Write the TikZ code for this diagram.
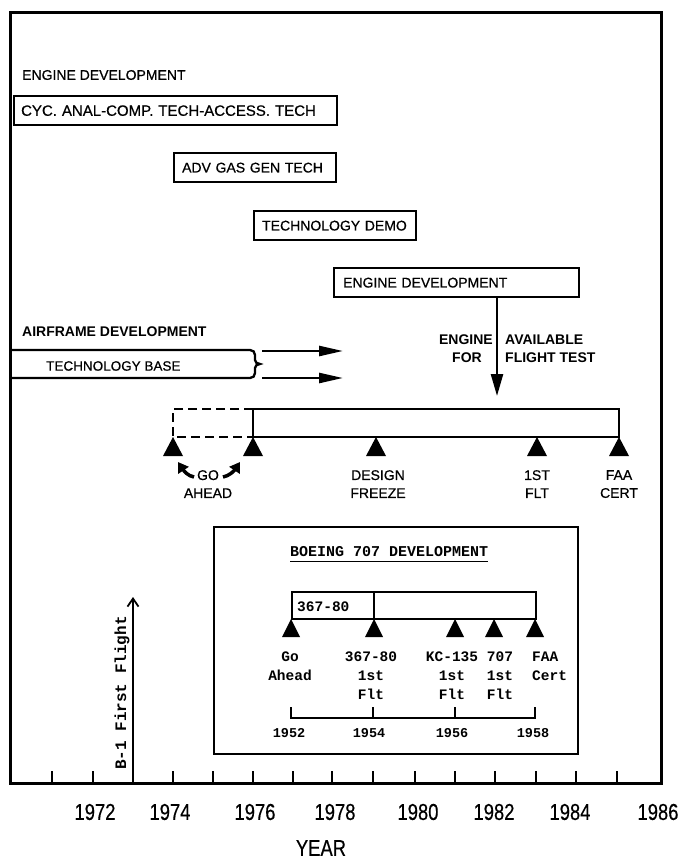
\documentclass[tikz,border=0pt]{standalone}
\usepackage{fontspec}
\setmainfont{Liberation Sans}
\newfontfamily\letterfont[FakeBold=0.6]{Liberation Sans}
\newfontfamily\typefont{Liberation Mono}
\newfontfamily\condfont[FakeStretch=0.8,FakeBold=0.4]{Liberation Sans}
\usetikzlibrary{arrows.meta}
\newcommand{\milestone}[1]{\fill (#1) ++(-10,19) -- (#1) -- ++(10,19) -- cycle;}
\newcommand{\smallmilestone}[1]{\fill (#1) ++(-9,18) -- (#1) -- ++(9,18) -- cycle;}
\tikzset{
  outframe/.style={line width=3pt},
  tbox/.style={draw, line width=2.3pt, minimum height=29pt, inner ysep=0pt, align=left,
    font=\letterfont\fontsize{14}{16}\selectfont},
  lbl/.style={font=\letterfont\fontsize{14}{18}\selectfont, align=center, inner sep=0pt},
  blbl/.style={font=\bfseries\fontsize{14}{18}\selectfont, inner sep=0pt},
  bigarrow/.style={line width=2.5pt, -{Triangle[length=24pt,width=10pt]}},
  downarrow/.style={line width=2.5pt, -{Triangle[length=22pt,width=12pt]}},
  goarrow/.style={line width=3.5pt, -{Triangle[length=10pt,width=12pt]}},
  tline/.style={line width=2.3pt},
  insetline/.style={line width=2pt},
  mono/.style={font=\typefont\bfseries\fontsize{14.5}{19}\selectfont, align=center, inner sep=0pt},
  yr/.style={font=\condfont\fontsize{23}{23}\selectfont, inner sep=0pt},
  tickline/.style={line width=2pt},
}
\begin{document}
\begin{tikzpicture}[x=1pt,y=-1pt]
\fill[white] (0,0) rectangle (680,861);
\useasboundingbox (0,0) rectangle (680,861);

% outer frame and axis
\draw[outframe] (10,13) rectangle (661,783);
\foreach \tx in {52,93,173,213,253,293,332,373,415,455,495,536,576,617}
  \draw[tickline] (\tx,771) -- (\tx,783);

% engine development
\node[lbl, anchor=west] (engtitle) at (22,75) {ENGINE DEVELOPMENT};
\node[tbox, anchor=north west, inner xsep=7pt, text width=309pt, font=\letterfont\fontsize{15}{16}\selectfont] (cyc) at (13,95) {CYC. ANAL-COMP. TECH-ACCESS. TECH};
\node[tbox, anchor=north west, inner xsep=8pt, text width=146pt] (adv) at (173,152) {ADV GAS GEN TECH};
\node[tbox, anchor=north west, inner xsep=8pt, text width=146pt] (demo) at (253,210) {TECHNOLOGY DEMO};
\node[tbox, anchor=north west, inner xsep=9pt, text width=227pt] (engdev) at (333,267) {ENGINE DEVELOPMENT};

\coordinate (engtip) at (497,396);
\draw[downarrow] (engdev.south -| engtip) -- (engtip);
\node[blbl, anchor=east] (engl1) at (493,340) {ENGINE};
\node[blbl] (engl2) at (467,358) {FOR};
\node[blbl, anchor=west] (avl1) at (505,340) {AVAILABLE};
\node[blbl, anchor=west] (avl2) at (505,358) {FLIGHT TEST};

% airframe development
\node[blbl, anchor=west] (airtitle) at (22,332) {AIRFRAME DEVELOPMENT};
\draw[tline] (12,350) -- (250,350) .. controls (253,350) and (255,352) .. (255,355) -- (255,360)
  .. controls (255,362) and (257,364) .. (260,364) .. controls (257,364) and (255,366) .. (255,368)
  -- (255,373) .. controls (255,376) and (253,378) .. (250,378) -- (12,378);
\node[lbl, anchor=west, font=\letterfont\fontsize{13.5}{16}\selectfont] (techbase) at (46,366) {TECHNOLOGY BASE};
\coordinate (ta1) at (262,351); \coordinate (ta1e) at (343,351);
\coordinate (ta2) at (262,378); \coordinate (ta2e) at (343,378);
\draw[bigarrow] (ta1) -- (ta1e);
\draw[bigarrow] (ta2) -- (ta2e);

% main timeline
\draw[tline] (253,409) rectangle (619,437);
\draw[line width=2pt, dash pattern=on 9pt off 5pt] (253,409) -- (173,409) -- (173,437) -- (253,437);
\coordinate (m1) at (173,437);
\coordinate (m2) at (253,437);
\coordinate (m3) at (376,437);
\coordinate (m4) at (537,437);
\coordinate (m5) at (619,437);
\milestone{m1} \milestone{m2} \milestone{m3} \milestone{m4} \milestone{m5}
\node[lbl, anchor=north] (golbl) at (208,470) {GO\\AHEAD};
\node[lbl, anchor=north] (dflbl) at (378,470) {DESIGN\\FREEZE};
\node[lbl, anchor=north] (fflbl) at (537,470) {1ST\\FLT};
\node[lbl, anchor=north] (falbl) at (619,470) {FAA\\CERT};
\coordinate (goLt) at (194,477); \coordinate (goL) at (178,462);
\coordinate (goRt) at (223,477); \coordinate (goR) at (240,462);
\draw[goarrow] (goLt) .. controls (188,476) and (184,471) .. (goL);
\draw[goarrow] (goRt) .. controls (229,476) and (234,471) .. (goR);

% Boeing 707 inset
\node[draw, insetline, minimum width=364pt, minimum height=227pt, anchor=north west, inner sep=0pt] (inset) at (213,526) {};
\node[mono, anchor=west, font=\typefont\bfseries\fontsize{15}{19}\selectfont] (boeing) at (290,552) {BOEING 707 DEVELOPMENT};
\draw[line width=1.5pt] ([yshift=-4pt]boeing.south west) -- ([yshift=-4pt]boeing.south east);
\draw[insetline] (292,592) rectangle (536,619);
\draw[insetline] (374,592) -- (374,619);
\node[mono, anchor=west] (proto) at (297,607) {367-80};
\coordinate (b1) at (291,619);
\coordinate (b2) at (374,619);
\coordinate (b3) at (455,619);
\coordinate (b4) at (494,619);
\coordinate (b5) at (535,619);
\smallmilestone{b1} \smallmilestone{b2} \smallmilestone{b3} \smallmilestone{b4} \smallmilestone{b5}
\node[mono, anchor=north] (bl1) at (290,652) {Go\\Ahead};
\node[mono, anchor=north] (bl2) at (371,652) {367-80\\1st\\Flt};
\node[mono, anchor=north] (bl3) at (452,652) {KC-135\\1st\\Flt};
\node[mono, anchor=north] (bl4) at (500,652) {707\\1st\\Flt};
\node[mono, anchor=north west, align=left] (bl5) at (532,652) {FAA\\Cert};
\draw[insetline] (291,707) -- (291,718) -- (535,718) -- (535,707);
\draw[insetline] (373,707) -- (373,718);
\draw[insetline] (455,707) -- (455,718);
\node[mono, font=\typefont\bfseries\fontsize{13.5}{16}\selectfont] (y52) at (289,733) {1952};
\node[mono, font=\typefont\bfseries\fontsize{13.5}{16}\selectfont] (y54) at (369,733) {1954};
\node[mono, font=\typefont\bfseries\fontsize{13.5}{16}\selectfont] (y56) at (452,733) {1956};
\node[mono, font=\typefont\bfseries\fontsize{13.5}{16}\selectfont] (y58) at (533,733) {1958};

% B-1 first flight
\coordinate (b1base) at (133,783);
\coordinate (b1tip) at (133,597);
\draw[line width=1.8pt, -{Straight Barb[length=8pt,width=11pt]}] (b1base) -- (b1tip);
\node[mono, rotate=90, font=\typefont\bfseries\fontsize{16}{19}\selectfont] (b1lbl) at (122,693) {B-1 First Flight};

% year axis labels
\node[yr] (l72) at (95,812) {1972};
\node[yr] (l74) at (170,812) {1974};
\node[yr] (l76) at (255,812) {1976};
\node[yr] (l78) at (335,812) {1978};
\node[yr] (l80) at (418,812) {1980};
\node[yr] (l82) at (494,812) {1982};
\node[yr] (l84) at (570,812) {1984};
\node[yr] (l86) at (658,812) {1986};
\node[yr] (yearlbl) at (321,848) {YEAR};
\end{tikzpicture}
\end{document}
